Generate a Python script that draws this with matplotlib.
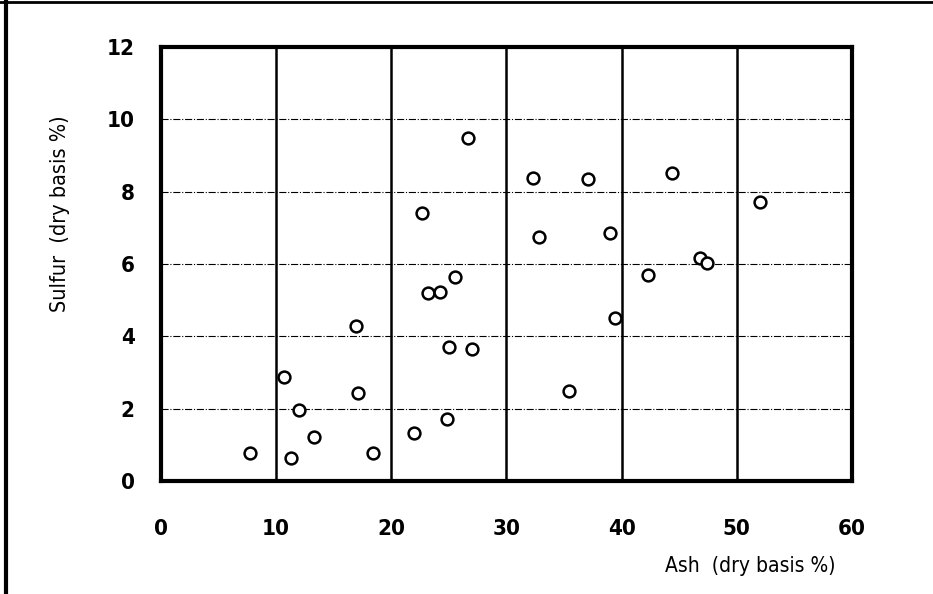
import matplotlib
matplotlib.use("Agg")
import matplotlib.pyplot as plt

plt.rcParams['font.family'] = ['DejaVu Sans']

# ash vs sulfur, dry basis %
ash = [7.7, 10.7, 11.3, 12.0, 13.3, 16.9, 17.1, 18.4, 22.0, 22.7, 23.2, 24.2, 24.8, 25.0,
       25.5, 26.7, 27.0, 32.3, 32.8, 35.4, 37.1, 39.0, 39.4, 42.3, 44.4, 46.8, 47.4, 52.0]
sulfur = [0.77, 2.87, 0.64, 1.96, 1.22, 4.28, 2.43, 0.77, 1.33, 7.40, 5.19, 5.22, 1.71, 3.70,
          5.64, 9.48, 3.65, 8.37, 6.74, 2.49, 8.34, 6.85, 4.50, 5.69, 8.51, 6.16, 6.02, 7.71]
xticks = [0, 10, 20, 30, 40, 50, 60]
yticks = [0, 2, 4, 6, 8, 10, 12]

fig = plt.figure(figsize=(9.33, 5.94), dpi=100)
ax = fig.add_axes([0.1726, 0.19, 0.7404, 0.731])

ax.plot(ash, sulfur, 'o', mfc='white', mec='black', ms=8.5, mew=1.8, zorder=3)

ax.set_xlim(0, 60)
ax.set_ylim(0, 12)
ax.set_xticks(xticks)
ax.set_yticks(yticks)
ax.tick_params(length=0)
ax.tick_params(axis='y', pad=19)
ax.tick_params(axis='x', pad=27)
for lab in ax.get_xticklabels() + ax.get_yticklabels():
    lab.set_fontsize(16)
    lab.set_fontstretch('condensed')
    lab.set_fontweight('bold')

for x in xticks[1:-1]:
    ax.axvline(x, color='black', lw=1.8, zorder=1)
for y in yticks[1:-1]:
    ax.axhline(y, color='black', lw=0.8, ls='-.', zorder=1)

for s in ax.spines.values():
    s.set_linewidth(3)

fig.text(0.804, 0.047, 'Ash  (dry basis %)', fontsize=15, ha='center', va='center',
         fontstretch='condensed')
fig.text(0.064, 0.641, 'Sulfur  (dry basis %)', fontsize=15.5, ha='center', va='center',
         rotation=90, fontstretch='condensed')

# scan border
fig.add_artist(plt.Line2D([0.006, 0.006], [0, 1], color='black', lw=3))
fig.add_artist(plt.Line2D([0, 1], [0.996, 0.996], color='black', lw=2))

fig.savefig('out.png', dpi=100)
